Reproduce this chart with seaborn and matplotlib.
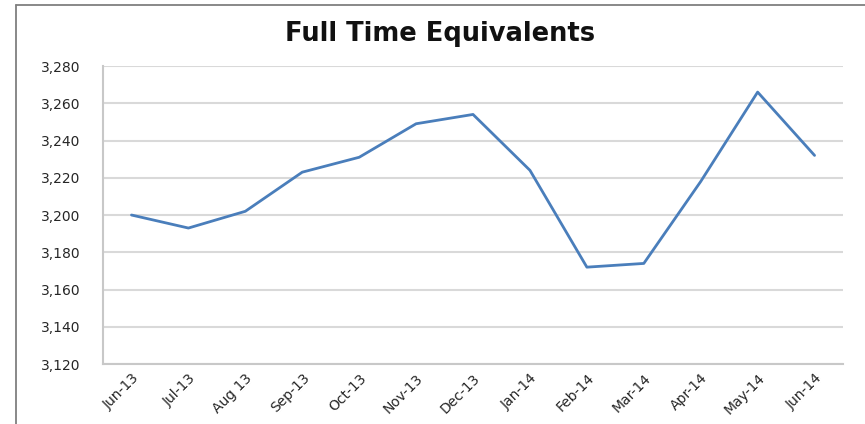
import matplotlib
matplotlib.use("Agg")
import matplotlib.pyplot as plt
from matplotlib.lines import Line2D
import seaborn as sns
import pandas as pd

months = ["Jun-13", "Jul-13", "Aug 13", "Sep-13", "Oct-13", "Nov-13", "Dec-13",
          "Jan-14", "Feb-14", "Mar-14", "Apr-14", "May-14", "Jun-14"]
fte = [3200, 3193, 3202, 3223, 3231, 3249, 3254, 3224, 3172, 3174, 3218, 3266, 3232]
y_ticks = [3120, 3140, 3160, 3180, 3200, 3220, 3240, 3260, 3280]
title = "Full Time Equivalents"

df = pd.DataFrame({"month": months, "fte": fte})

sns.set_theme(style="white")
plt.rcParams["font.family"] = ["DejaVu Sans"]

fig = plt.figure(figsize=(8.65, 4.24), dpi=100)
ax = fig.add_axes([0.1191, 0.1415, 0.8555, 0.7028])

sns.lineplot(data=df, x="month", y="fte", sort=False, ax=ax,
             color="#4a7ebb", linewidth=2.0, zorder=3)

ax.set_xlim(-0.5, len(months) - 0.5)
ax.set_ylim(y_ticks[0], y_ticks[-1])
ax.set_yticks(y_ticks)
ax.set_yticklabels([f"{v:,}" for v in y_ticks])
ax.set_xticks(range(len(months)))
ax.set_xticklabels(months, rotation=45, ha="right", rotation_mode="anchor")
ax.tick_params(axis="both", labelsize=10, colors="#262626", length=0)
ax.tick_params(axis="y", pad=16.5)
ax.tick_params(axis="x", pad=5)
ax.set_xlabel("")
ax.set_ylabel("")
ax.grid(axis="y", color="#d9d9d9", linewidth=1.5)
ax.grid(axis="x", visible=False)
for side in ["top", "right"]:
    ax.spines[side].set_visible(False)
for side in ["left", "bottom"]:
    ax.spines[side].set_color("#c8c8c8")
    ax.spines[side].set_linewidth(1.5)

fig.text(0.5087, 0.92, title, ha="center", va="center",
         fontsize=18.5, fontweight="bold", color="#111111")

fig.add_artist(Line2D([0.0185, 0.0185], [0.0, 0.988], transform=fig.transFigure,
                      color="#7f7f7f", linewidth=1.3))
fig.add_artist(Line2D([0.0185, 1.0], [0.988, 0.988], transform=fig.transFigure,
                      color="#7f7f7f", linewidth=1.3))

fig.savefig("out.png", dpi=100)
